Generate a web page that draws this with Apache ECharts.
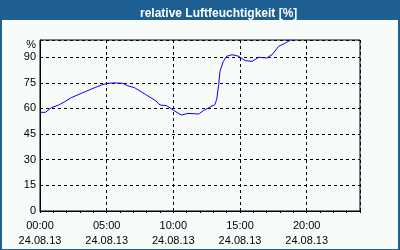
<!DOCTYPE html>
<html>
<head>
<meta charset="utf-8">
<script src="https://cdn.jsdelivr.net/npm/echarts@6/dist/echarts.min.js"></script>
<style>
  html, body { margin: 0; padding: 0; background: #f8fcf8; }
</style>
</head>
<body>
<div id="chart" style="width: 400px; height: 250px"></div>
<script>
// Stunden seit 00:00 am 24.08.13
const hours = [0, 0.4, 0.85, 1.4, 1.85, 2.35, 3.1, 3.85, 4.6, 5.1, 5.6, 6.2, 6.55, 7.1, 7.9, 8.6, 9.0, 9.5,
  10.0, 10.6, 11.1, 11.9, 12.25, 12.8, 13.1, 13.25, 13.4, 13.5, 13.75, 14.0, 14.4, 14.9, 15.4, 15.9,
  16.4, 17.0, 17.4, 17.9, 18.4, 18.8];
const humidity = [57.7, 57.7, 60.4, 62, 63.9, 66.3, 68.8, 71.3, 73.7, 74.7, 74.9, 74.7, 73.3, 72.1, 68.2, 64.9, 62, 61.6,
  59, 56.1, 57.1, 56.7, 58.7, 61, 62, 65.1, 73.9, 81.7, 87.5, 90.5, 91.4, 90.5, 87.9, 87.5,
  89.9, 89.5, 91.4, 96.3, 98.2, 100];
const timeLabels = ['00:00', '05:00', '10:00', '15:00', '20:00'];
const dateLabel = '24.08.13';
const titleText = 'relative Luftfeuchtigkeit [%]';

const font = 'Liberation Sans';
const chart = echarts.init(document.getElementById('chart'), null, { renderer: 'canvas' });

const option = {
  animation: false,
  backgroundColor: '#f8fcf8',
  title: {
    text: titleText,
    left: 135,
    top: 3,
    textStyle: { color: '#ffffff', fontFamily: font, fontSize: 12, fontWeight: 'bold' }
  },
  graphic: [
    // Rahmen und Titelleiste
    { type: 'rect', z: -1, shape: { x: 0, y: 0, width: 400, height: 20 }, style: { fill: '#1d5e93' } },
    { type: 'rect', z: -1, shape: { x: 0, y: 0, width: 2, height: 250 }, style: { fill: '#1d5e93' } },
    { type: 'rect', z: -1, shape: { x: 398, y: 0, width: 2, height: 250 }, style: { fill: '#1d5e93' } },
    { type: 'rect', z: -1, shape: { x: 0, y: 249, width: 400, height: 1 }, style: { fill: '#1d5e93' } },
    { type: 'text', x: 36, y: 45, style: { text: '%', fill: '#000', font: '11px ' + font, align: 'right', verticalAlign: 'middle' } }
  ],
  grid: { left: 40, top: 40, right: 40, bottom: 39, show: true, borderColor: '#000', borderWidth: 1, backgroundColor: 'transparent' },
  xAxis: [
    {
      type: 'value', min: 0, max: 24, interval: 1,
      axisLine: { show: true, lineStyle: { color: '#000' } },
      axisTick: { show: true, length: 2, lineStyle: { color: '#000' } },
      splitLine: { show: false },
      axisLabel: {
        color: '#000', fontFamily: font, fontSize: 11, margin: 7, lineHeight: 15,
        showMaxLabel: true,
        formatter: v => v % 5 === 0 && v < 24 ? timeLabels[v / 5] + '\n' + dateLabel : ''
      }
    },
    {
      type: 'value', min: 0, max: 24, interval: 5, position: 'bottom',
      axisLine: { show: false }, axisTick: { show: false }, axisLabel: { show: false },
      splitLine: { show: true, lineStyle: { color: '#000', type: [3, 3], width: 1 } }
    }
  ],
  yAxis: {
    type: 'value', min: 0, max: 100, interval: 15,
    axisLine: { show: true, lineStyle: { color: '#000' } },
    axisTick: { show: false },
    splitLine: { show: true, lineStyle: { color: '#000', type: [3, 3], width: 1 } },
    axisLabel: {
      color: '#000', fontFamily: font, fontSize: 11, margin: 4,
      formatter: v => v === 100 ? '' : String(v)
    }
  },
  series: [{
    type: 'line',
    xAxisIndex: 0,
    data: hours.map((h, i) => [h, humidity[i]]),
    showSymbol: false,
    smooth: false,
    lineStyle: { color: '#0000ff', width: 1 },
    clip: true
  }]
};
chart.setOption(option);
</script>
</body>
</html>
